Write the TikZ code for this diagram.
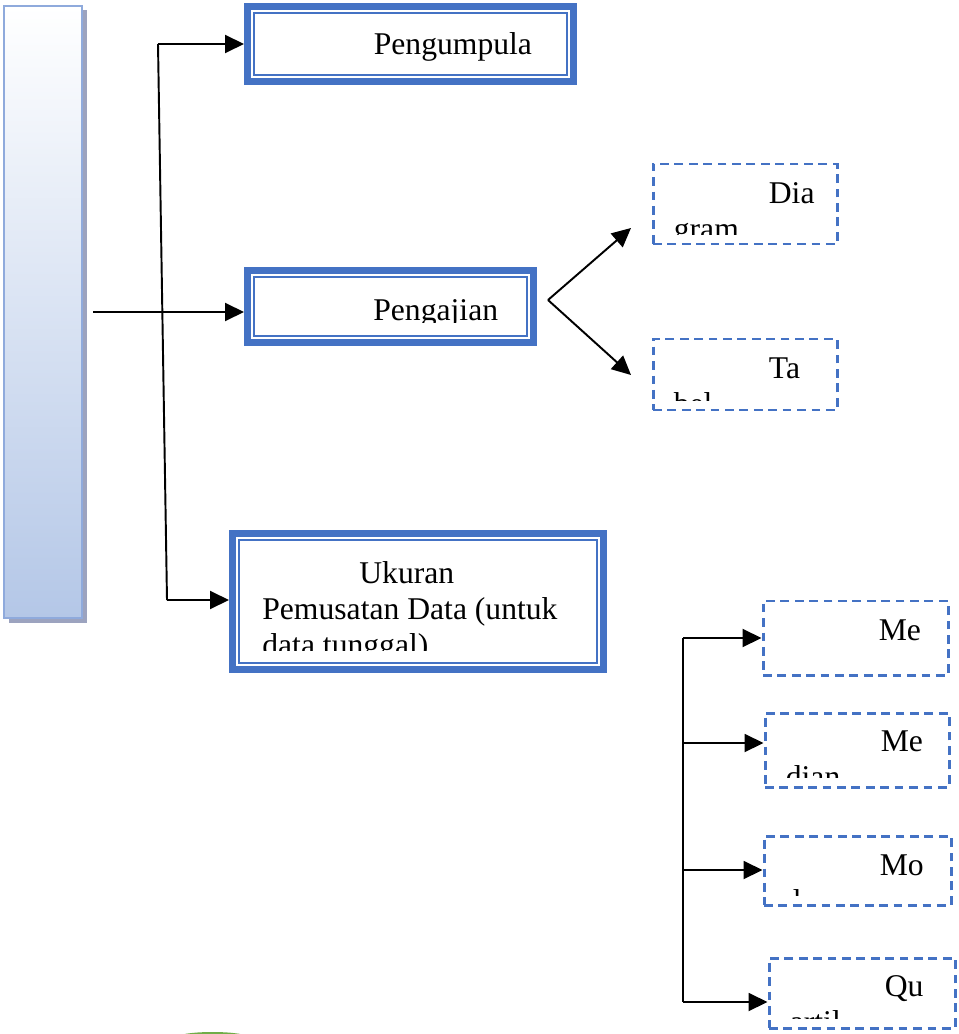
\documentclass[tikz,border=0pt]{standalone}
\usepackage{fontspec}
\setmainfont{Liberation Serif}
\usetikzlibrary{arrows.meta,shadows}
\definecolor{boxblue}{HTML}{4472C4}
\definecolor{barline}{HTML}{8FAADC}
\definecolor{barfill}{HTML}{B4C7E7}
\definecolor{barshade}{HTML}{9CA3BF}
\definecolor{leafgreen}{HTML}{70AD47}

\begin{document}
\begin{tikzpicture}[
    every node/.style={inner sep=0pt},
    mainbox/.style={draw=boxblue, line width=0.14cm, fill=white,
      path picture={\draw[boxblue, line width=0.8pt]
        ([shift={(0.13,-0.13)}]path picture bounding box.north west) rectangle
        ([shift={(-0.13,0.13)}]path picture bounding box.south east);}},
    subbox/.style={draw=boxblue, line width=1.7pt, dash pattern=on 5pt off 3.2pt},
    boxtext/.style={font=\fontsize{18}{20.5}\selectfont, align=left, anchor=base west},
    arr/.style={-{Triangle[length=0.38cm, width=0.36cm]}, line width=1.1pt},
    rail/.style={line width=1.1pt}
  ]
        \useasboundingbox (0,0) rectangle (19.16,-20.68);
        % Side bar
        \node[draw=barline, line width=1.5pt, top color=white, bottom color=barfill, minimum width=1.56cm, minimum height=12.24cm,
              drop shadow={shadow xshift=0.09cm, shadow yshift=-0.09cm, fill=barshade, opacity=1}] (bar) at (0.86,-6.24) {};
        % Main steps
        \node[mainbox, minimum width=6.52cm, minimum height=1.5cm] (pengumpulan) at (8.21,-0.88) {};
        \node[mainbox, minimum width=5.72cm, minimum height=1.44cm] (pengajian) at (7.81,-6.13) {};
        \node[mainbox, minimum width=7.42cm, minimum height=2.72cm] (ukuran) at (8.36,-12.03) {};
        % Presentation forms
        \node[subbox, minimum width=3.68cm, minimum height=1.6cm] (diagram) at (14.9,-4.08) {};
        \node[subbox, minimum width=3.68cm, minimum height=1.42cm] (tabel) at (14.9,-7.49) {};
        % Central tendency measures
        \node[subbox, minimum width=3.7cm, minimum height=1.48cm] (mean) at (17.11,-12.76) {};
        \node[subbox, minimum width=3.68cm, minimum height=1.48cm] (median) at (17.14,-15.0) {};
        \node[subbox, minimum width=3.74cm, minimum height=1.38cm] (modus) at (17.15,-17.41) {};
        \node[subbox, minimum width=3.72cm, minimum height=1.4cm] (kuartil) at (17.24,-19.86) {};

        % Texts, cut off at the bottom of each box (base = last line)
        \begin{scope}
          \clip ([yshift=0.46cm]pengumpulan.south west) rectangle (pengumpulan.north east);
          \node[boxtext] (pengumpulantxt) at ([shift={(0.66,-1.04)}]pengumpulan.north west) {\hspace*{1.93cm}Pengumpula};
        \end{scope}
        \begin{scope}
          \clip ([yshift=0.46cm]pengajian.south west) rectangle (pengajian.north east);
          \node[boxtext] (pengajiantxt) at ([shift={(0.68,-1.06)}]pengajian.north west) {\hspace*{1.9cm}Pengajian};
        \end{scope}
        \begin{scope}
          \clip ([yshift=0.46cm]ukuran.south west) rectangle (ukuran.north east);
          \node[boxtext] (ukurantxt) at ([shift={(0.66,-2.51)}]ukuran.north west) {\hspace*{1.94cm}Ukuran\\Pemusatan Data (untuk\\data tunggal)};
        \end{scope}
        \begin{scope}
          \clip ([yshift=0.22cm]diagram.south west) rectangle (diagram.north east);
          \node[boxtext] (diagramtxt) at ([shift={(0.44,-1.54)}]diagram.north west) {\hspace*{1.9cm}Dia\\gram};
        \end{scope}
        \begin{scope}
          \clip ([yshift=0.22cm]tabel.south west) rectangle (tabel.north east);
          \node[boxtext] (tabeltxt) at ([shift={(0.44,-1.54)}]tabel.north west) {\hspace*{1.9cm}Ta\\bel};
        \end{scope}
        \begin{scope}
          \clip ([yshift=0.22cm]mean.south west) rectangle (mean.north east);
          \node[boxtext] (meantxt) at ([shift={(0.44,-0.82)}]mean.north west) {\hspace*{1.9cm}Me};
        \end{scope}
        \begin{scope}
          \clip ([yshift=0.22cm]median.south west) rectangle (median.north east);
          \node[boxtext] (mediantxt) at ([shift={(0.44,-1.52)}]median.north west) {\hspace*{1.9cm}Me\\dian};
        \end{scope}
        \begin{scope}
          \clip ([yshift=0.22cm]modus.south west) rectangle (modus.north east);
          \node[boxtext] (modustxt) at ([shift={(0.44,-1.54)}]modus.north west) {\hspace*{1.9cm}Mo\\dus};
        \end{scope}
        \begin{scope}
          \clip ([yshift=0.22cm]kuartil.south west) rectangle (kuartil.north east);
          \node[boxtext] (kuartiltxt) at ([shift={(0.44,-1.52)}]kuartil.north west) {\hspace*{1.9cm}Qu\\artil};
        \end{scope}

        % Connectors on the left
        \coordinate (barout) at (1.86,-6.24);
        \coordinate (railtop) at (3.16,-0.88);
        \coordinate (railbot) at (3.34,-12.0);
        \draw[arr] (barout) -- (barout -| pengajian.west);
        \draw[rail] (railtop) -- (railbot);
        \draw[arr] (railtop) -- (pengumpulan.west);
        \draw[arr] (railbot) -- (railbot -| ukuran.west);
        % Fork to diagram and table
        \coordinate (fork) at (10.96,-6.0);
        \coordinate (diatip) at (12.62,-4.56);
        \coordinate (tabtip) at (12.62,-7.5);
        \draw[arr] (fork) -- (diatip);
        \draw[arr] (fork) -- (tabtip);
        % Rail on the right
        \coordinate (r1) at (13.66,-12.76);
        \coordinate (r2) at (13.66,-14.86);
        \coordinate (r3) at (13.66,-17.4);
        \coordinate (r4) at (13.66,-20.04);
        \draw[rail] (r1) -- (r4);
        \draw[arr] (r1) -- (r1 -| mean.west);
        \draw[arr] (r2) -- (r2 -| median.west);
        \draw[arr] (r3) -- (r3 -| modus.west);
        \draw[arr] (r4) -- (r4 -| kuartil.west);

        % Green edge at the bottom
        \fill[leafgreen] (4.25,-20.76) ellipse (0.75 and 0.12);
\end{tikzpicture}
\end{document}
